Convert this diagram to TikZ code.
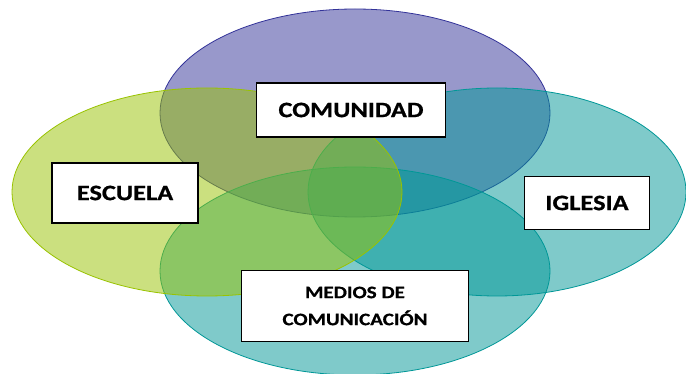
\documentclass[tikz,border=0pt]{standalone}
\usepackage{fontspec}
\setmainfont{Carlito}[FakeStretch=1.2, BoldFeatures={FakeBold=0.8}]
\definecolor{comunidadcol}{HTML}{333399}
\definecolor{escuelacol}{HTML}{99C300}
\definecolor{tealcol}{HTML}{009797}

\begin{document}
\begin{tikzpicture}[x=1pt, y=-1pt,
    circulo/.style={fill opacity=0.5, line width=0.8pt},
    etiqueta/.style={draw=black, fill=white, line width=1.4pt, inner sep=0pt, align=center,
      font=\bfseries\fontsize{22}{26}\selectfont}]
      \useasboundingbox (0,0) rectangle (686,374);
      \fill[white] (0,0) rectangle (686,374);

      % circulos
      \draw[circulo, draw=comunidadcol, fill=comunidadcol] (355,113) ellipse [x radius=195pt, y radius=104pt];
      \draw[circulo, draw=tealcol, fill=tealcol] (355,271) ellipse [x radius=195pt, y radius=104pt];
      \draw[circulo, draw=tealcol, fill=tealcol] (497,192) ellipse [x radius=189pt, y radius=104pt];
      \draw[circulo, draw=escuelacol, fill=escuelacol] (207,192) ellipse [x radius=195pt, y radius=104pt];

      % etiquetas
      \node[etiqueta, minimum width=189pt, minimum height=54pt] (comunidad) at (351,110) {COMUNIDAD};
      \node[etiqueta, minimum width=146pt, minimum height=60pt] (escuela) at (125,193) {ESCUELA};
      \node[etiqueta, minimum width=125pt, minimum height=53pt] (iglesia) at (587,203) {IGLESIA};
      \node[etiqueta, minimum width=227pt, minimum height=71pt, font=\bfseries\fontsize{17.5}{27}\selectfont] (medios) at (355,306) {MEDIOS DE\\COMUNICACIÓN};
    \end{tikzpicture}
\end{document}
